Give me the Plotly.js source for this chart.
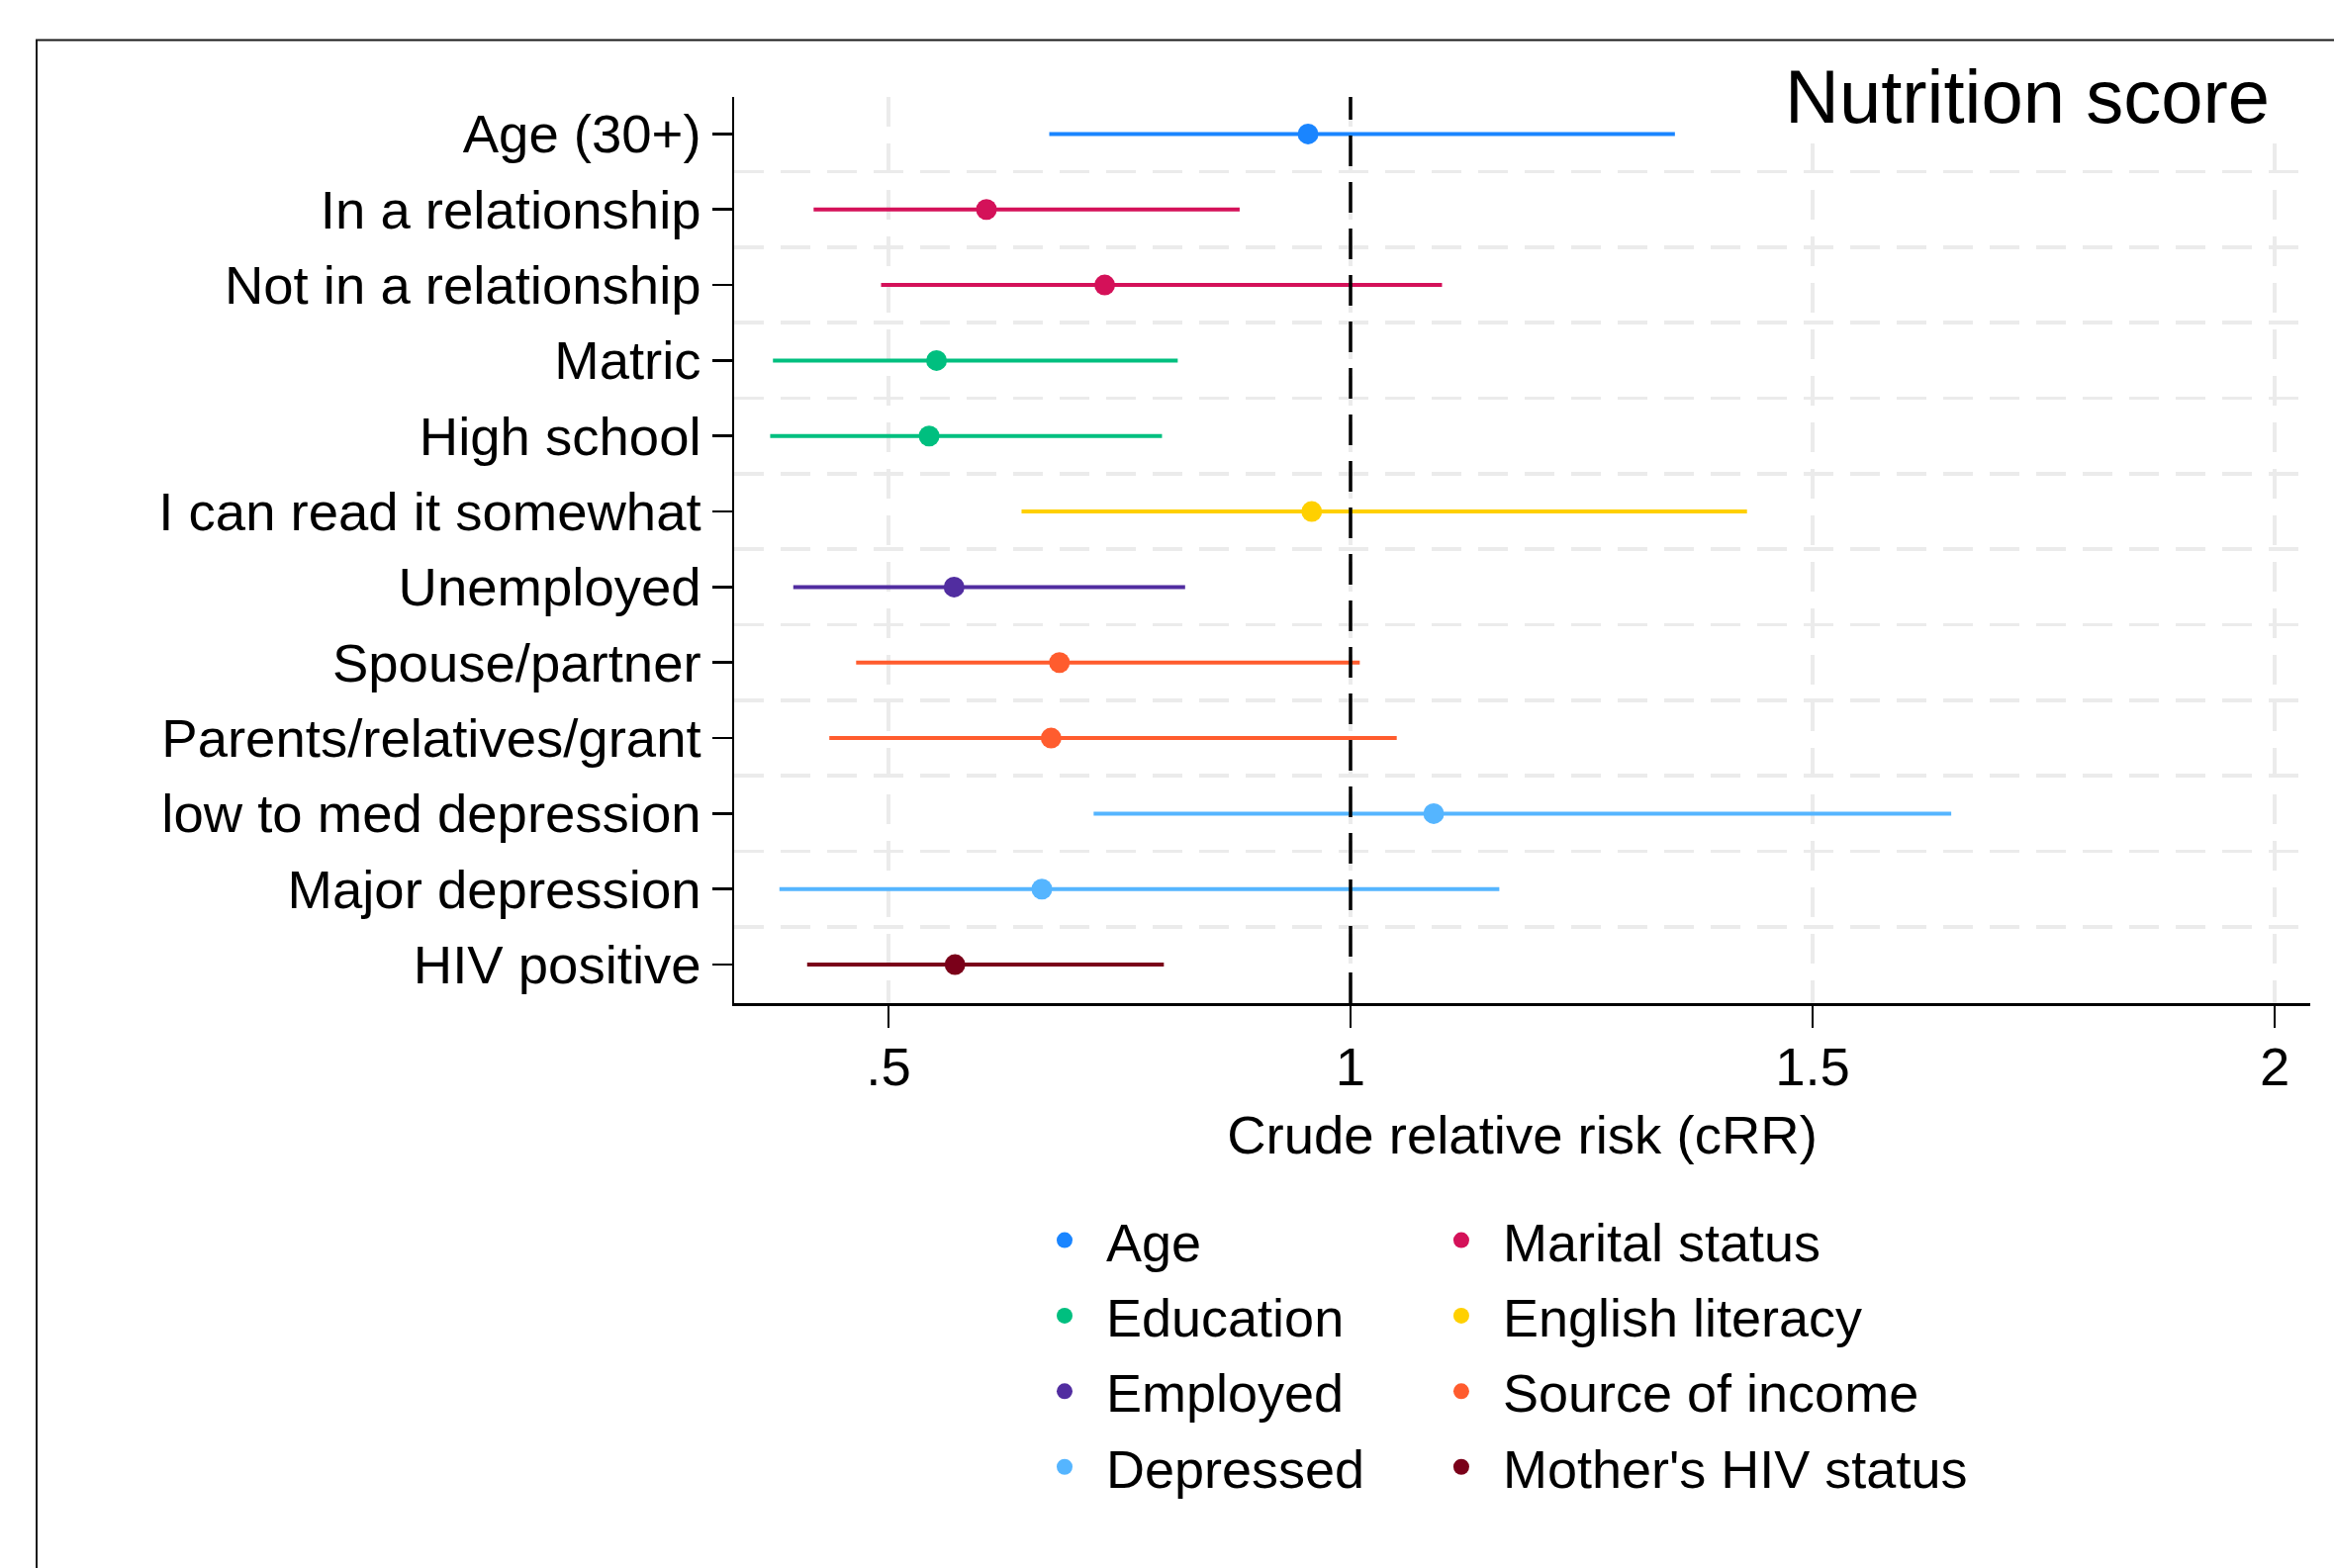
<!DOCTYPE html>
<html>
<head>
<meta charset="utf-8">
<script src="https://cdn.plot.ly/plotly-3.0.1.min.js"></script>
<style>
  html, body { margin: 0; padding: 0; background: #ffffff; }
  #chart { width: 2359px; height: 1585px; }
</style>
</head>
<body>
<div id="chart"></div>
<script>
// ---- Data ----
const categories = [
  "Age (30+)", "In a relationship", "Not in a relationship", "Matric", "High school",
  "I can read it somewhat", "Unemployed", "Spouse/partner", "Parents/relatives/grant",
  "low to med depression", "Major depression", "HIV positive"
];
const estimates = [0.954, 0.606, 0.734, 0.552, 0.544, 0.958, 0.571, 0.685, 0.676, 1.090, 0.666, 0.572];
const lowerCI   = [0.674, 0.419, 0.492, 0.375, 0.372, 0.644, 0.397, 0.465, 0.436, 0.722, 0.382, 0.412];
const upperCI   = [1.351, 0.880, 1.099, 0.813, 0.796, 1.429, 0.821, 1.010, 1.050, 1.650, 1.161, 0.798];
const groupOf = [
  "Age", "Marital status", "Marital status", "Education", "Education", "English literacy",
  "Employed", "Source of income", "Source of income", "Depressed", "Depressed", "Mother's HIV status"
];
const groups = [
  "Age", "Marital status", "Education", "English literacy",
  "Employed", "Source of income", "Depressed", "Mother's HIV status"
];
const xTickVals = [0.5, 1, 1.5, 2];
const xTickText = [".5", "1", "1.5", "2"];
const referenceValue = 1;
const chartTitle = "Nutrition score";
const xAxisTitle = "Crude relative risk (cRR)";

// ---- Styles ----
const groupColors = {
  "Age": "#1a85ff",
  "Marital status": "#d41159",
  "Education": "#00bf7f",
  "English literacy": "#ffd000",
  "Employed": "#512da0",
  "Source of income": "#ff5c2e",
  "Depressed": "#55b5ff",
  "Mother's HIV status": "#7a0019"
};
const leftColumn = ["Age", "Education", "Employed", "Depressed"];
const FONT = "Liberation Sans, Arial, Helvetica, sans-serif";
const FS = 54.5;

const traces = groups.map(g => {
  const idx = categories.map((c, i) => i).filter(i => groupOf[i] === g);
  return {
    type: "scatter",
    mode: "markers",
    name: g,
    legend: leftColumn.includes(g) ? "legend" : "legend2",
    legendgroup: g,
    x: idx.map(i => estimates[i]),
    y: idx.map(i => i + 1),
    marker: { color: groupColors[g], size: 21, line: { width: 0 } },
    error_x: {
      type: "data", symmetric: false,
      array: idx.map(i => upperCI[i] - estimates[i]),
      arrayminus: idx.map(i => estimates[i] - lowerCI[i]),
      width: 0, thickness: 4, color: groupColors[g]
    },
    hoverinfo: "skip"
  };
});

const halfPositions = categories.slice(1).map((c, i) => i + 1.5);

const legendBase = {
  font: { family: FONT, size: 54, color: "#000" },
  bgcolor: "rgba(0,0,0,0)",
  borderwidth: 0,
  itemwidth: 74,
  itemsizing: "trace",
  tracegroupgap: 3.2,
  traceorder: "grouped",
  xanchor: "left",
  yanchor: "top",
  y: -0.2161
};

const layout = {
  width: 2359,
  height: 1585,
  paper_bgcolor: "#ffffff",
  plot_bgcolor: "#ffffff",
  font: { family: FONT, size: FS, color: "#000" },
  margin: { l: 742, r: 24, t: 97.5, b: 571, pad: 0 },
  showlegend: true,
  legend: Object.assign({}, legendBase, { x: 0.1833 }),
  legend2: Object.assign({}, legendBase, { x: 0.435 }),
  xaxis: {
    range: [0.333, 2.0385],
    tickmode: "array",
    tickvals: xTickVals,
    ticktext: xTickText,
    ticks: "outside",
    ticklen: 22,
    tickwidth: 2.5,
    tickcolor: "#000",
    ticklabelstandoff: -7,
    tickfont: { family: FONT, size: FS, color: "#000" },
    showline: true,
    linecolor: "#000",
    linewidth: 2.5,
    showgrid: true,
    gridcolor: "#ebebeb",
    gridwidth: 3.5,
    griddash: "30px,17px",
    zeroline: false,
    automargin: false,
    title: { text: xAxisTitle, font: { family: FONT, size: FS, color: "#000" }, standoff: 20 }
  },
  yaxis: {
    range: [12.51, 0.51],
    tickmode: "array",
    tickvals: categories.map((c, i) => i + 1),
    ticktext: categories,
    ticks: "outside",
    ticklen: 20,
    tickwidth: 2.5,
    tickcolor: "#000",
    tickfont: { family: FONT, size: FS, color: "#000" },
    showline: true,
    linecolor: "#000",
    linewidth: 2.5,
    showgrid: false,
    zeroline: false,
    automargin: false,
    minor: {
      tickmode: "array",
      tickvals: halfPositions,
      ticks: "",
      showgrid: true,
      gridcolor: "#ebebeb",
      gridwidth: 3.5,
      griddash: "30px,17px"
    }
  },
  shapes: [
    {
      // white backing behind the title box (hides gridlines there)
      type: "rect", xref: "paper", yref: "paper",
      x0: 0.6579, x1: 0.9875, y0: 0.958, y1: 1.0,
      line: { width: 0 },
      fillcolor: "#ffffff",
      layer: "above"
    },
    {
      type: "line", xref: "x", yref: "paper",
      x0: referenceValue, x1: referenceValue, y0: 0, y1: 1,
      line: { color: "#000", width: 3.5, dash: "31px,16px" },
      layer: "above"
    },
    {
      type: "rect", xref: "paper", yref: "paper",
      x0: -0.44256, x1: 1.2, y0: -1, y1: 1.06274,
      line: { color: "#1a1a1a", width: 2 },
      fillcolor: "rgba(0,0,0,0)",
      layer: "above"
    }
  ],
  annotations: [
    {
      text: chartTitle,
      xref: "paper", yref: "paper",
      x: 0.9749, y: 1.001,
      xanchor: "right", yanchor: "middle",
      width: 520, height: 78,
      align: "right", valign: "middle",
      showarrow: false,
      borderpad: 0,
      font: { family: FONT, size: 76, color: "#000" }
    }
  ]
};

Plotly.newPlot("chart", traces, layout, { staticPlot: true, displayModeBar: false });
</script>
</body>
</html>
